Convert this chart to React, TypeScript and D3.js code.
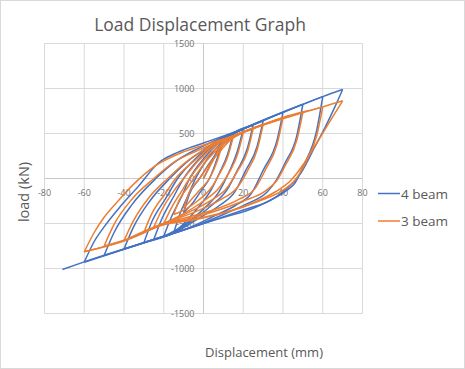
import * as d3 from "d3";

type Pt = [number, number];

const xTicks = [-80, -60, -40, -20, 0, 20, 40, 60, 80];
const yTicks = [-1500, -1000, -500, 0, 500, 1000, 1500];

// 4 beam: branches in loading order (displacement mm, load kN)
const beam4: Pt[][] = [
  [[0, 0], [5, 225], [10, 450]],
  [[10, 450], [7, 230], [3, 0], [-1, -130], [-5, -260], [-10, -380]],
  [[-10, -380], [-7, -170], [-2, 0], [3, 170], [9, 350], [15, 500]],
  [[15, 500], [12, 260], [8, 60], [4, -120], [-3, -330], [-9, -480], [-15, -607]],
  [[-15, -607], [-12, -400], [-8, -200], [-4, 0], [2, 220], [10, 420], [20, 550]],
  [[20, 550], [17, 300], [13, 80], [8, -140], [0, -340], [-10, -520], [-20, -642]],
  [[-20, -642], [-16, -420], [-11, -200], [-7, 0], [0, 220], [10, 440], [25, 595]],
  [[25, 595], [22, 330], [17, 90], [12, -120], [4, -300], [-6, -470], [-15, -607], [-25, -677]],
  [[-25, -677], [-21, -450], [-15, -200], [-10, 0], [-3, 200], [7, 400], [18, 530], [30, 640]],
  [[30, 640], [27, 360], [21, 80], [16, -140], [8, -300], [-3, -450], [-15, -607], [-30, -713]],
  [[-30, -713], [-26, -480], [-19, -220], [-13, 0], [-5, 200], [5, 390], [18, 530], [40, 735]],
  [[40, 735], [37, 426], [30, 92], [24, -167], [16, -300], [5, -420], [-8, -555], [-20, -642], [-40, -784]],
  [[-40, -784], [-35, -530], [-27, -250], [-17, 0], [-8, 190], [3, 360], [18, 530], [50, 825]],
  [[50, 825], [47, 480], [41, 170], [36, -40], [32, -150], [22, -280], [10, -400], [-5, -535], [-30, -713], [-50, -855]],
  [[-50, -855], [-45, -600], [-36, -290], [-24, 0], [-14, 190], [-3, 330], [12, 480], [60, 910]],
  [[60, 910], [57, 540], [50, 130], [46, -50], [42, -130], [32, -260], [20, -350], [8, -440], [0, -500], [-30, -713], [-60, -930]],
  [[-60, -930], [-55, -700], [-50, -537], [-42, -315], [-33, -93], [-23, 167], [-13, 290], [0, 395], [20, 550], [40, 735], [60, 910], [70, 989]],
  [[70, 989], [66, 790], [61, 560], [56, 350], [49, 60], [39, -165], [25, -330], [12, -420], [0, -500], [-30, -713], [-60, -926], [-71, -1011]],
];

// 3 beam
const beam3: Pt[][] = [
  [[0, 0], [5, 210], [10, 420]],
  [[10, 420], [7, 200], [3, 0], [-2, -130], [-6, -230], [-10, -330]],
  [[-10, -330], [-7, -150], [-2, 0], [3, 160], [9, 320], [15, 465]],
  [[15, 465], [12, 230], [8, 50], [4, -100], [-3, -250], [-9, -340], [-15, -400]],
  [[-15, -400], [-12, -230], [-8, -100], [-4, 30], [2, 210], [10, 380], [20, 510]],
  [[20, 510], [17, 260], [13, 70], [8, -100], [0, -250], [-10, -390], [-20, -500]],
  [[-20, -500], [-16, -320], [-11, -140], [-7, 0], [0, 200], [10, 400], [25, 555]],
  [[25, 555], [22, 290], [17, 80], [12, -100], [4, -240], [-6, -360], [-20, -500], [-25, -540]],
  [[-25, -540], [-21, -350], [-15, -140], [-10, 0], [-3, 190], [7, 380], [18, 500], [30, 600]],
  [[30, 600], [27, 320], [22, 80], [17, -100], [9, -230], [-3, -360], [-20, -500], [-30, -600]],
  [[-30, -600], [-26, -390], [-19, -160], [-14, 0], [-5, 190], [5, 370], [18, 500], [40, 678]],
  [[40, 678], [37, 380], [31, 90], [26, -110], [18, -230], [5, -350], [-8, -430], [-20, -500], [-40, -690]],
  [[-40, -690], [-35, -460], [-27, -200], [-18, 0], [-9, 180], [2, 340], [18, 500], [50, 735]],
  [[50, 735], [47, 430], [41, 140], [37, -20], [31, -140], [20, -250], [5, -370], [-8, -450], [-20, -505], [-35, -650], [-50, -750]],
  [[-50, -750], [-45, -510], [-36, -230], [-25, 0], [-15, 180], [-3, 310], [12, 450], [60, 796]],
  [[60, 796], [57, 480], [51, 160], [46, -20], [40, -130], [28, -250], [12, -370], [0, -430], [-20, -510], [-40, -690], [-60, -815]],
  [[-60, -815], [-55, -600], [-50, -430], [-43, -250], [-35, -60], [-25, 130], [-13, 270], [0, 370], [20, 510], [40, 678], [60, 796], [70, 863]],
  [[70, 863], [66, 720], [61, 540], [56, 360], [50, 150], [44, -20], [36, -150], [25, -270], [10, -385], [-5, -460], [-20, -515], [-40, -695], [-60, -815]],
];

const seriesNames = ["4 beam", "3 beam"];
const seriesColors = ["#4472C4", "#ED7D31"];

const W = 465;
const H = 369;
const FONT = "'Open Sans', 'Noto Sans', sans-serif";

export default function App() {
  const x = d3.scaleLinear().domain([-80, 80]).range([44.5, 362.5]);
  const y = d3.scaleLinear().domain([-1500, 1500]).range([313.5, 43.5]);

  // each branch runs one way in x, so draw it left-to-right with a monotone curve
  const line = d3
    .line<Pt>()
    .x((d) => x(d[0]))
    .y((d) => y(d[1]))
    .curve(d3.curveMonotoneX);
  const branchPath = (b: Pt[]) => line([...b].sort((p, q) => p[0] - q[0])) || "";

  const allSeries = [beam4, beam3];

  return (
    <svg
      width={W}
      height={H}
      style={{ position: "absolute", left: 0, top: 0, background: "#fff" }}
      fontFamily={FONT}
    >
      <rect x={0.5} y={0.5} width={W - 1} height={H - 1} fill="#fff" stroke="#d9d9d9" />

      <text x={200} y={31} textAnchor="middle" fontSize={17.5} fill="#595959">
        Load Displacement Graph
      </text>

      {/* grid */}
      {xTicks.map((t) => (
        <line key={"gx" + t} x1={x(t)} x2={x(t)} y1={y(1500)} y2={y(-1500)} stroke="#d9d9d9" strokeWidth={1} />
      ))}
      {yTicks.map((t) => (
        <line key={"gy" + t} x1={x(-80)} x2={x(80)} y1={y(t)} y2={y(t)} stroke="#d9d9d9" strokeWidth={1} />
      ))}
      <line x1={x(0)} x2={x(0)} y1={y(1500)} y2={y(-1500)} stroke="#c8c8c8" />
      <line x1={x(-80)} x2={x(80)} y1={y(0)} y2={y(0)} stroke="#c8c8c8" />

      {/* tick labels */}
      {yTicks.map((t) => (
        <text key={"ly" + t} x={x(0) - 9} y={y(t) + 3.2} textAnchor="end" fontSize={9} fill="#737373">
          {t}
        </text>
      ))}
      {xTicks.map((t) => (
        <text key={"lx" + t} x={x(t)} y={y(0) + 17} textAnchor="middle" fontSize={9} fill="#737373">
          {t}
        </text>
      ))}

      {/* series */}
      {allSeries.map((s, i) => (
        <g key={"s" + i} fill="none" stroke={seriesColors[i]} strokeWidth={1.5} strokeLinejoin="round">
          {s.map((b, j) => (
            <path key={j} d={branchPath(b)} />
          ))}
        </g>
      ))}

      {/* axis titles */}
      <text transform="translate(29,192) rotate(-90)" textAnchor="middle" fontSize={14.5} fill="#595959">
        load (kN)
      </text>
      <text x={264} y={357} textAnchor="middle" fontSize={13} fill="#595959">
        Displacement (mm)
      </text>

      {/* legend */}
      {seriesNames.map((n, i) => (
        <g key={n} transform={`translate(378,${193.5 + i * 27.5})`}>
          <line x1={0} x2={22} y1={0} y2={0} stroke={seriesColors[i]} strokeWidth={1.5} />
          <text x={23} y={5} fontSize={13.5} fill="#595959">
            {n}
          </text>
        </g>
      ))}
    </svg>
  );
}
